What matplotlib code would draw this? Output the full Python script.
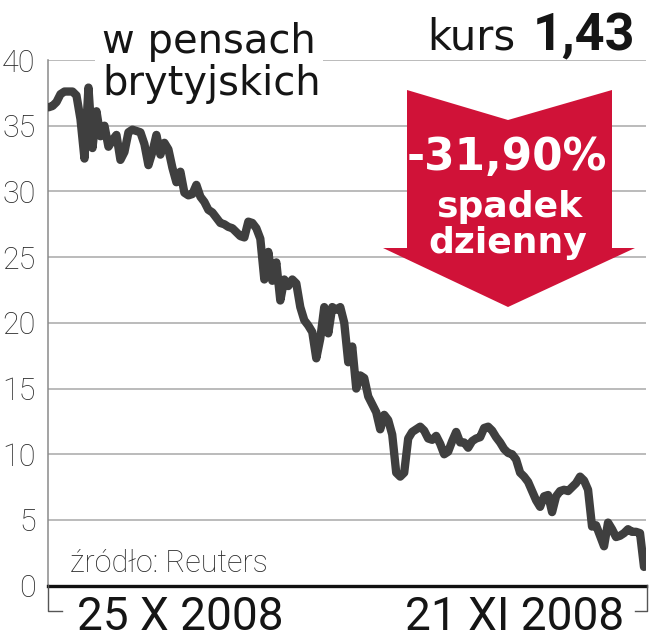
import matplotlib
matplotlib.use('Agg')
import matplotlib.pyplot as plt
from matplotlib.patches import Polygon
from matplotlib.lines import Line2D

# ---------------- data ----------------
price = [
    36.4, 36.5, 36.8, 37.4, 37.6, 37.6, 37.6, 37.3, 35.5, 32.5,
    37.9, 33.3, 36.1, 34.2, 35.0, 33.4, 33.9, 34.3, 32.4, 33.0,
    34.5, 34.7, 34.6, 34.5, 33.6, 32.0, 33.0, 34.3, 32.8, 33.7,
    33.2, 31.8, 30.7, 31.5, 29.9, 29.7, 29.8, 30.5, 29.6, 29.2,
    28.6, 28.4, 28.0, 27.6, 27.5, 27.3, 27.2, 26.9, 26.6, 26.5,
    27.7, 27.6, 27.2, 26.4, 23.3, 25.4, 23.2, 24.6, 21.7, 23.3,
    22.8, 23.3, 23.0, 21.2, 20.2, 19.8, 19.3, 17.3, 18.8, 21.2,
    19.2, 21.2, 21.0, 21.2, 20.0, 17.0, 18.2, 15.0, 16.0, 15.8,
    14.4, 13.8, 13.2, 11.9, 13.0, 12.6, 11.5, 8.6, 8.3, 8.6,
    11.2, 11.7, 11.9, 12.1, 11.8, 11.2, 11.1, 11.4, 10.8, 10.0,
    10.2, 11.0, 11.7, 10.9, 10.9, 10.5, 11.0, 11.2, 11.3, 12.0,
    12.1, 11.8, 11.3, 10.9, 10.4, 10.1, 10.0, 9.6, 8.6, 8.3,
    7.9, 7.2, 6.5, 6.0, 6.8, 6.9, 5.6, 6.8, 7.2, 7.3,
    7.2, 7.5, 7.8, 8.3, 8.0, 7.3, 4.5, 4.6, 3.8, 3.0,
    4.8, 4.3, 3.7, 3.8, 4.0, 4.3, 4.1, 4.1, 4.0, 1.43,
]
yticks = [0, 5, 10, 15, 20, 25, 30, 35, 40]
ytick_labels = ["0", "5", "10", "15", "20", "25", "30", "35", "40"]
date_labels = ["25 X 2008", "21 XI 2008"]
title_lines = ["w pensach", "brytyjskich"]
kurs_label = "kurs"
kurs_value = "1,43"
change_lines = ["-31,90%", "spadek", "dzienny"]
source_text = "źródło: Reuters"

# ---------------- layout helpers ----------------
W, H = 649, 640
fig = plt.figure(figsize=(W / 100, H / 100), dpi=100)
fig.patch.set_facecolor('white')


def fx(x):
    return x / W


def fy(y):
    return 1 - y / H


LINE_C = '#3f3f3f'
TEXT_C = '#151515'

ax = fig.add_axes([fx(48), fy(585.7), fx(646) - fx(48), fy(60) - fy(585.7)])
xs = list(range(len(price)))
ax.plot(xs, price, color=LINE_C, lw=6.0, solid_capstyle='round',
        solid_joinstyle='round', zorder=5)
ax.set_ylim(0, 40)
ax.set_xlim(-0.125, len(price) - 1 + 0.5)

ax.set_yticks(yticks)
ax.set_yticklabels(ytick_labels)
ax.set_xticks([])
ax.tick_params(axis='y', length=0, pad=9.0, labelsize=22, labelcolor='#2a2a2a')
for lbl in ax.get_yticklabels():
    lbl.set_fontfamily(['Roboto', 'DejaVu Sans'])
    lbl.set_fontweight('light')
ax.yaxis.grid(True, color='#a8a8a8', lw=1.1)
ax.set_axisbelow(True)
for s in ['top', 'right', 'bottom']:
    ax.spines[s].set_visible(False)
ax.spines['left'].set_color('#8a8a8a')
ax.spines['left'].set_linewidth(1.1)
ax.axhline(0, color='#111111', lw=2.4, zorder=6, clip_on=False)

# bracket ticks under the axis
fig.add_artist(Line2D([fx(48), fx(48), fx(62)], [fy(585), fy(611), fy(611)],
                      color='#555555', lw=1.0))
fig.add_artist(Line2D([fx(647), fx(647), fx(635)], [fy(585), fy(611), fy(611)],
                      color='#555555', lw=1.0))

# ---------------- texts ----------------
fig.text(fx(102), fy(53), title_lines[0], fontsize=28.8, family=['DejaVu Sans'],
         color=TEXT_C, ha='left', va='baseline',
         bbox=dict(facecolor='white', edgecolor='none', pad=5))
fig.text(fx(102), fy(95), title_lines[1], fontsize=28.8, family=['DejaVu Sans'],
         color=TEXT_C, ha='left', va='baseline')

fig.text(fx(427), fy(50), kurs_label, fontsize=30, family=['DejaVu Sans'],
         color=TEXT_C, ha='left', va='baseline')
fig.text(fx(533), fy(50), kurs_value, fontsize=37.5, family=['Roboto', 'DejaVu Sans'],
         fontweight='bold', color=TEXT_C, ha='left', va='baseline')

# red arrow
arrow_px = [(407, 90), (508, 120), (612, 90), (612, 248), (635, 248),
            (508, 307), (383, 248), (407, 248)]
fig.add_artist(Polygon([(fx(a), fy(b)) for a, b in arrow_px], closed=True,
                       facecolor='#d01238', edgecolor='none',
                       transform=fig.transFigure, zorder=2))
fig.text(fx(507), fy(170), change_lines[0], fontsize=31.5,
         family=['DejaVu Sans'], fontweight='bold', color='white',
         ha='center', va='baseline', zorder=3)
fig.text(fx(509), fy(217), change_lines[1], fontsize=26,
         family=['DejaVu Sans'], fontweight='bold', color='white',
         ha='center', va='baseline', zorder=3)
fig.text(fx(508), fy(253), change_lines[2], fontsize=26,
         family=['DejaVu Sans'], fontweight='bold', color='white',
         ha='center', va='baseline', zorder=3)

fig.text(fx(70), fy(572), source_text, fontsize=22,
         family=['Roboto', 'DejaVu Sans'], fontweight='light', color='#2a2a2a',
         ha='left', va='baseline')

fig.text(fx(77), fy(630), date_labels[0], fontsize=33,
         family=['Roboto', 'DejaVu Sans'], color=TEXT_C, ha='left', va='baseline')
fig.text(fx(405), fy(630), date_labels[1], fontsize=33,
         family=['Roboto', 'DejaVu Sans'], color=TEXT_C, ha='left', va='baseline')

fig.savefig('out.png', dpi=100, facecolor='white')
